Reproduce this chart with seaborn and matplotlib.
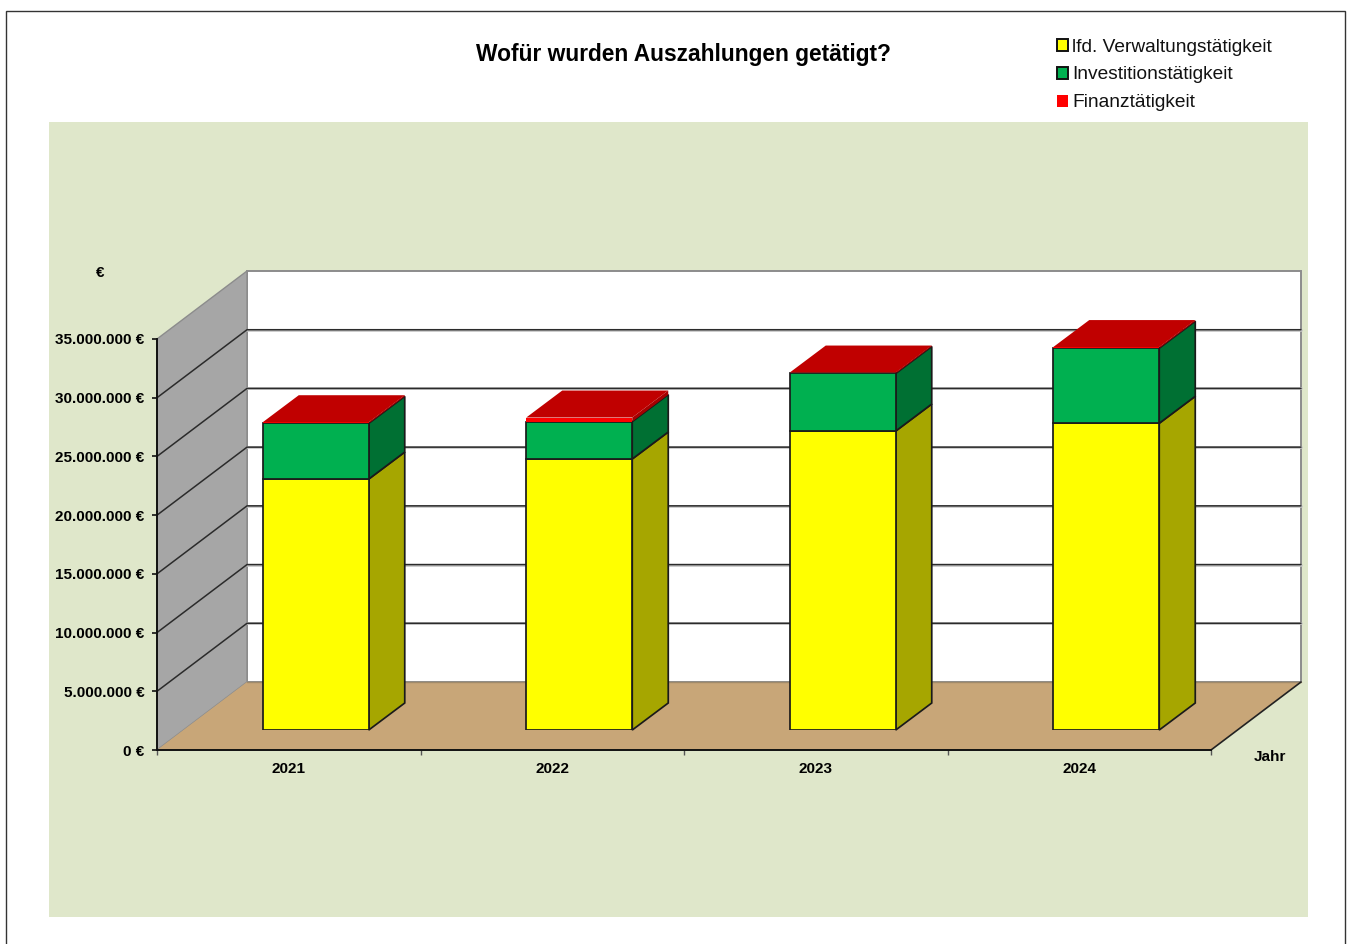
import numpy as np
import pandas as pd
import seaborn as sns
import matplotlib.pyplot as plt
from matplotlib.patches import Patch, Rectangle

# Values
years = ['2021', '2022', '2023', '2024']
verwaltung = np.array([21370000, 23080000, 25460000, 26120000])
investition = np.array([4740000, 3180000, 4900000, 6390000])
finanz = np.array([100000, 350000, 80000, 100000])
y_ticks = np.arange(0, 35000001, 5000000)
legend_labels = ['lfd. Verwaltungstätigkeit', 'Investitionstätigkeit', 'Finanztätigkeit']

W, H = 1349, 944
DPI = 100

sns.set_theme(style='white')
plt.rcParams['font.family'] = ['Liberation Sans', 'DejaVu Sans']

fig = plt.figure(figsize=(W / DPI, H / DPI), dpi=DPI, facecolor='white')

# page frame and green chart area
fig.add_artist(Rectangle((5.5 / W, -0.02), 1339.5 / W, (H - 10.5) / H + 0.02, transform=fig.transFigure,
                         facecolor='white', edgecolor='#333333', lw=1.0, zorder=-2))
fig.add_artist(Rectangle((49 / W, (H - 917) / H), 1259 / W, 795 / H, transform=fig.transFigure,
                         facecolor='#dfe7ca', edgecolor='none', zorder=-1))

# front plane carries the axes, the bars sit a bit further back on the floor
plot_w, plot_h = 1054, 411
ax = fig.add_axes([157 / W, (H - 750) / H, plot_w / W, plot_h / H])
ax_bar = fig.add_axes([184 / W, (H - 730) / H, plot_w / W, plot_h / H])

xlim = (-0.5, 3.5)
ylim = (0, 35000000)
px_x = (xlim[1] - xlim[0]) / plot_w
px_y = (ylim[1] - ylim[0]) / plot_h

# depth of the walls and the bars, in data units
wall_dx, wall_dy = 90 * px_x, 68 * px_y
bar_dx, bar_dy = 36 * px_x, 27 * px_y

ax.set_xlim(xlim)
ax.set_ylim(ylim)
ax.patch.set_visible(False)

x0, x1 = xlim
y_top = ylim[1]
ax.fill([x0 + wall_dx, x1 + wall_dx, x1 + wall_dx, x0 + wall_dx],
        [wall_dy, wall_dy, y_top + wall_dy, y_top + wall_dy],
        facecolor='white', edgecolor='#8c8c8c', lw=1.4, clip_on=False, zorder=1)
ax.fill([x0, x0 + wall_dx, x0 + wall_dx, x0],
        [0, wall_dy, y_top + wall_dy, y_top],
        facecolor='#a6a6a6', edgecolor='#8c8c8c', lw=1.0, clip_on=False, zorder=1)
ax.fill([x0, x1, x1 + wall_dx, x0 + wall_dx],
        [0, 0, wall_dy, wall_dy],
        facecolor='#c8a678', edgecolor='none', clip_on=False, zorder=1.5)
ax.plot([x0 + wall_dx, x1 + wall_dx], [wall_dy, wall_dy], color='#a08a6a', lw=1.0, clip_on=False, zorder=1.6)
ax.plot([x1, x1 + wall_dx], [0, wall_dy], color='#222222', lw=1.2, clip_on=False, zorder=2)

for v in y_ticks[1:-1]:
    ax.plot([x0 + wall_dx, x1 + wall_dx], [v + wall_dy, v + wall_dy], color='#c4c4c4', lw=1.9,
            clip_on=False, zorder=1.8)
    ax.plot([x0, x0 + wall_dx, x1 + wall_dx], [v, v + wall_dy, v + wall_dy], color='#2b2b2b', lw=1.1,
            clip_on=False, zorder=2)

for name in ['top', 'right']:
    ax.spines[name].set_visible(False)
for name in ['left', 'bottom']:
    ax.spines[name].set_color('#111111')
    ax.spines[name].set_linewidth(1.4)
    ax.spines[name].set_zorder(3)

ax.set_yticks(y_ticks)
ax.set_yticklabels([f'{v:,.0f}'.replace(',', '.') + ' €' for v in y_ticks], fontsize=11, fontweight='bold')
ax.set_xticks(np.arange(-0.5, 3.6, 1))
ax.set_xticklabels([])
ax.set_xticks(np.arange(4), years, minor=True, fontsize=11, fontweight='bold')
ax.tick_params(axis='y', which='major', left=True, length=3.5, width=1.2, color='#111111', pad=5.5, labelcolor='black')
ax.tick_params(axis='x', which='major', bottom=True, length=3.5, width=1.0, color='#555555')
ax.tick_params(axis='x', which='minor', bottom=False, length=0, pad=8.5, labelcolor='black')
ax.set_ylabel('€', rotation=0, fontsize=11, fontweight='bold', color='black', ha='center', va='center')
ax.yaxis.set_label_coords(-57 / plot_w, 477 / plot_h)
ax.set_xlabel('Jahr', fontsize=11, fontweight='bold', color='black', ha='center', va='center')
ax.xaxis.set_label_coords(1113 / plot_w, -7 / plot_h)

# stacked bars
df = pd.DataFrame({'Jahr': years, 'verwaltung': verwaltung, 'investition': investition, 'finanz': finanz})
edge = '#1a1a1a'
bar_w = 106 / 263.5
stack = [
    ('verwaltung', '#ffff00', '#a6a600', edge, 1.25, np.zeros(4)),
    ('investition', '#00b050', '#007033', edge, 1.25, verwaltung),
    ('finanz', '#ff0000', '#a60000', 'none', 0, verwaltung + investition),
]
for col, face, dark, ec, lw, bottom in stack:
    sns.barplot(data=df, x='Jahr', y=col, color=face, saturation=1, width=bar_w, bottom=bottom,
                edgecolor=ec, linewidth=lw, ax=ax_bar, zorder=3)
    # side face of each bar
    for i, rect in enumerate(ax_bar.containers[-1]):
        xr = rect.get_x() + rect.get_width()
        yb, yt = rect.get_y(), rect.get_y() + rect.get_height()
        ax_bar.fill([xr, xr + bar_dx, xr + bar_dx, xr], [yb, yb + bar_dy, yt + bar_dy, yt],
                    facecolor=dark, edgecolor=ec, lw=lw, clip_on=False, zorder=2.5)

# red top of each bar
for rect in ax_bar.containers[-1]:
    xl, xr = rect.get_x(), rect.get_x() + rect.get_width()
    yt = rect.get_y() + rect.get_height()
    ax_bar.fill([xl, xr, xr + bar_dx, xl + bar_dx], [yt, yt, yt + bar_dy, yt + bar_dy],
                facecolor='#c00000', edgecolor='none', clip_on=False, zorder=3.5)

ax_bar.set_xlim(xlim)
ax_bar.set_ylim(ylim)
ax_bar.axis('off')

fig.text(683 / W, (H - 54) / H, 'Wofür wurden Auszahlungen getätigt?', fontsize=16.35, fontweight='bold',
         color='black', ha='center', va='center')

handles = [Patch(facecolor='#ffff00', edgecolor='#111111', lw=1.4),
           Patch(facecolor='#00b050', edgecolor='#111111', lw=1.4),
           Patch(facecolor='#ff0000', edgecolor='none')]
fig.legend(handles, legend_labels, loc='upper left', bbox_to_anchor=(1057 / W, (H - 38.5) / H), frameon=False,
           fontsize=13.8, borderpad=0, borderaxespad=0, handlelength=0.58, handleheight=0.58,
           handletextpad=0.2, labelspacing=0.57, labelcolor='#111111')

fig.savefig('out.png', dpi=DPI)
